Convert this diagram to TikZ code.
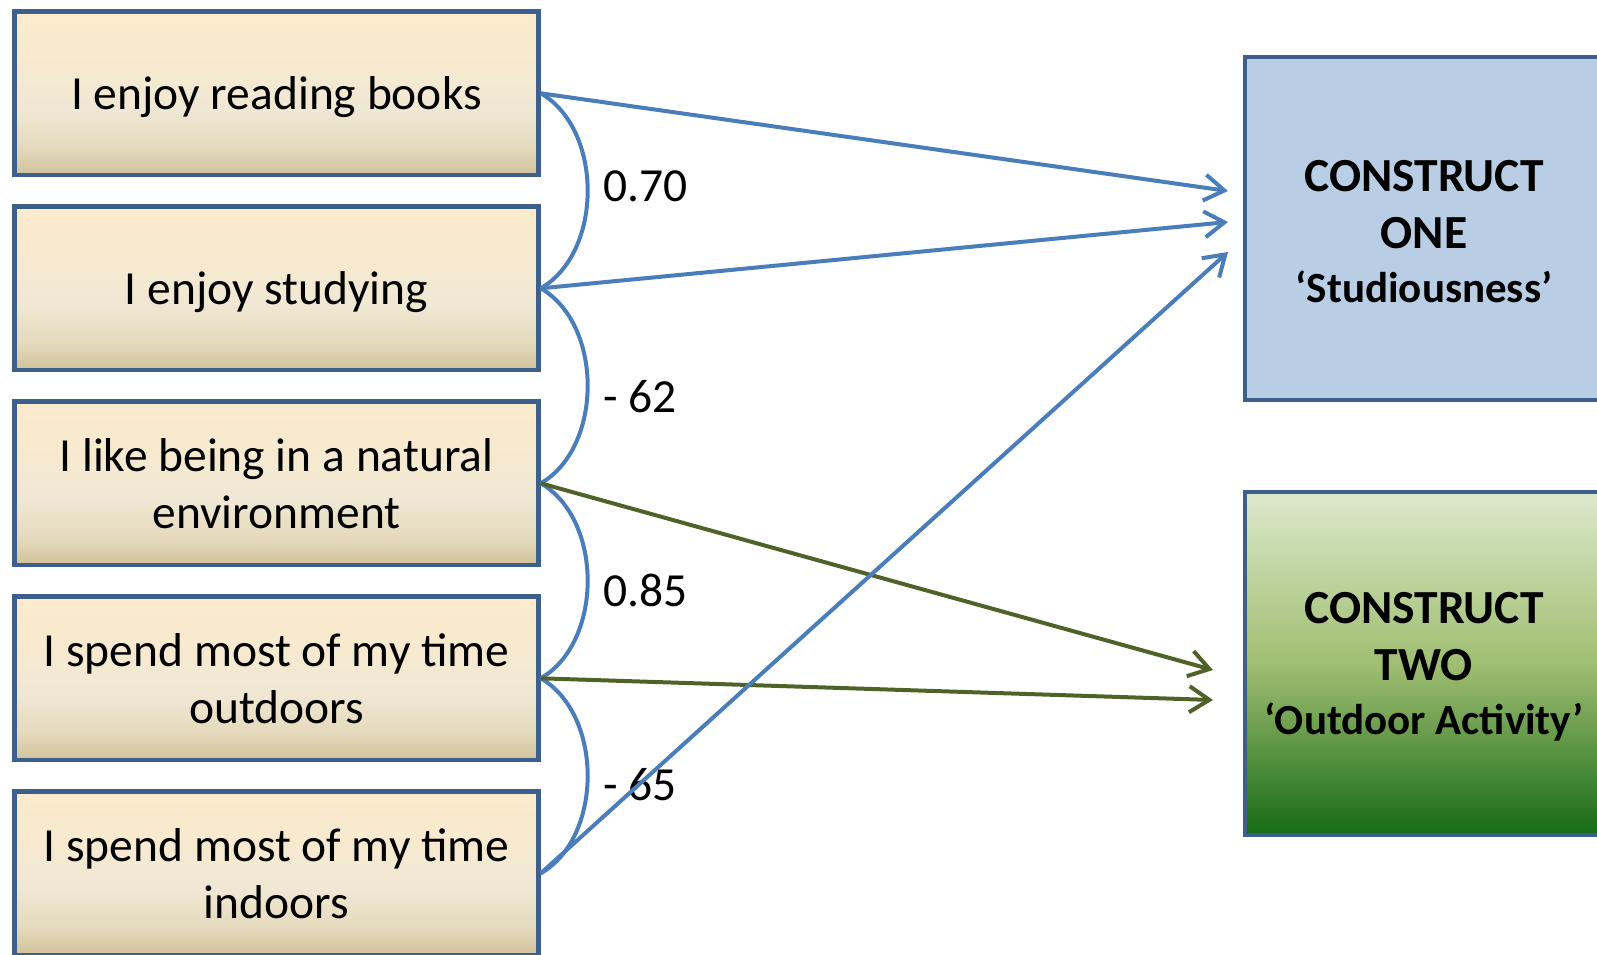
\documentclass[tikz,border=0pt]{standalone}
\usepackage{fontspec}
\setmainfont{Carlito}
\usetikzlibrary{arrows.meta}

\definecolor{itemtop}{HTML}{FDEBCB}
\definecolor{itemmid}{HTML}{F0E8D4}
\definecolor{itemlow}{HTML}{E4D9BB}
\definecolor{itembot}{HTML}{D2C29C}
\definecolor{twotop}{HTML}{DCE9CB}
\definecolor{twomid}{HTML}{A0BE72}
\definecolor{twobot}{HTML}{166A14}
\definecolor{boxline}{HTML}{3D5F8C}
\definecolor{onefill}{HTML}{B9CDE5}
\definecolor{linkblue}{HTML}{4A7EBB}
\definecolor{linkgreen}{HTML}{4F6228}

\pgfdeclareverticalshading{itemfade}{100bp}{color(0bp)=(itembot); color(25bp)=(itembot); color(33bp)=(itemlow); color(45bp)=(itemmid); color(75bp)=(itemtop); color(100bp)=(itemtop)}
\pgfdeclareverticalshading{twofade}{100bp}{color(0bp)=(twobot); color(25bp)=(twobot); color(50bp)=(twomid); color(75bp)=(twotop); color(100bp)=(twotop)}

\newcommand{\subname}[1]{\\[-1.5pt]{\fontsize{21.5}{26}\selectfont #1}}

\begin{document}
\begin{tikzpicture}[x=0.5pt, y=-0.5pt,
    every node/.style={font=\fontsize{23.75}{28.5}\selectfont},
    item/.style={draw=boxline, line width=2.25pt, shading=itemfade, minimum width=262pt, minimum height=81.75pt, align=center, inner sep=0pt},
    oneline/.style={text depth=0pt},
    construct/.style={draw=boxline, line width=2.25pt, minimum width=179pt, minimum height=171.5pt, align=center, inner sep=0pt, font=\fontsize{23.75}{28.5}\selectfont\bfseries},
    corr/.style={draw=linkblue, line width=2pt},
    load/.style={line width=2pt, -{Straight Barb[length=10pt,width=13pt]}},
    coef/.style={anchor=west, inner sep=0pt}
  ]
    \useasboundingbox (0,0) rectangle (1597,954);

    % Statements
    \node[item, oneline] (books) at (276.5,93.3) {I enjoy reading books};
    \node[item, oneline] (study) at (276.5,288.3) {I enjoy studying};
    \node[item] (nature) at (276.5,483.3) {I like being in a natural\\environment};
    \node[item] (outdoor) at (276.5,678.3) {I spend most of my time\\outdoors};
    \node[item] (indoor) at (276.5,873.3) {I spend most of my time\\indoors};

    % Constructs
    \node[construct, fill=onefill] (one) at (1424,228.4) {\rule{0pt}{18.5pt}CONSTRUCT\\ONE\subname{‘Studiousness’}};
    \node[construct, shading=twofade, text depth=-1pt] (two) at (1424,663.7) {CONSTRUCT\\TWO\subname{‘Outdoor Activity’}};

    % Correlations
    \draw[corr] (books.east) to[out=-30, in=30, looseness=0.95] (study.east);
    \draw[corr] (study.east) to[out=-30, in=30, looseness=0.95] (nature.east);
    \draw[corr] (nature.east) to[out=-30, in=30, looseness=0.95] (outdoor.east);
    \draw[corr] (outdoor.east) to[out=-30, in=30, looseness=0.95] (indoor.east);

    \node[coef] (r12) at (603,186.5) {0.70};
    \node[coef] (r23) at (603,397) {- 62};
    \node[coef] (r34) at (603,590) {0.85};
    \node[coef] (r45) at (603,785) {- 65};

    % Loadings
    \coordinate (tipA) at (1228,191);
    \coordinate (tipB) at (1228,222);
    \coordinate (tipC) at (1228,252);
    \coordinate (tipD) at (1213,670);
    \coordinate (tipE) at (1213,700);

    \draw[load, linkblue] (books.east) -- (tipA);
    \draw[load, linkblue] (study.east) -- (tipB);
    \draw[load, linkgreen] (nature.east) -- (tipD);
    \draw[load, linkgreen] (outdoor.east) -- (tipE);
    \draw[load, linkblue] (indoor.east) -- (tipC);

\end{tikzpicture}
\end{document}
